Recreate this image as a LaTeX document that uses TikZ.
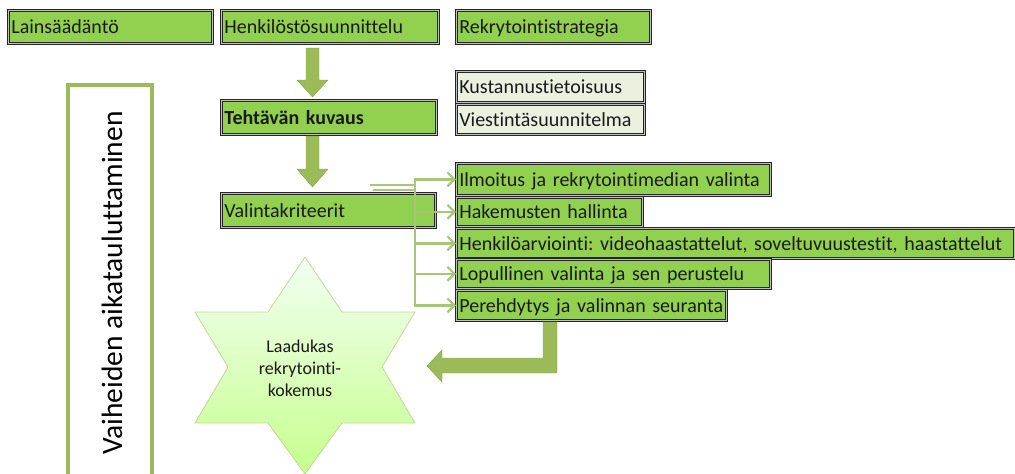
\documentclass[tikz,border=0pt]{standalone}
\usepackage{fontspec}
\setmainfont{Carlito}[Ligatures={NoCommon}]
\usetikzlibrary{arrows.meta}
\frenchspacing
\definecolor{boxgreen}{HTML}{92D050}
\definecolor{palegreen}{HTML}{EBF1DE}
\definecolor{olive}{HTML}{9BBB59}
\definecolor{linkgreen}{HTML}{A6C77A}
\definecolor{inktext}{HTML}{1A1A1A}
\tikzset{
  gbox/.style={rectangle, anchor=north west, fill=boxgreen, draw=black!85,
    double=black!25, double distance=1.2pt, line width=0.7pt,
    inner xsep=3pt, inner ysep=0pt, align=left, text=inktext,
    text height=14pt, text depth=0pt,
    font=\fontsize{20}{22}\selectfont},
  pbox/.style={gbox, fill=palegreen},
  link/.style={draw=linkgreen, line width=2.6pt,
    -{Straight Barb[length=7pt, width=14pt, line width=2.2pt]}},
  blockarrow/.style={fill=olive, draw=olive!85!black, line width=0.4pt},
}
\begin{document}
\begin{tikzpicture}[x=1pt, y=-1pt]
\useasboundingbox (0,0) rectangle (1015,474);

% top row
\node[gbox, text width=198pt, minimum height=33pt] (law) at (8,10) {Lainsäädäntö};
\node[gbox, text width=211pt, minimum height=33pt] (hr) at (221,10) {Henkilöstösuunnittelu};
\node[gbox, text width=188pt, minimum height=33pt] (strat) at (456,10) {Rekrytointistrategia};

% job description and its side notes
\node[gbox, text width=209pt, minimum height=34pt, font=\fontsize{20}{22}\selectfont\bfseries] (task) at (221,100) {Tehtävän kuvaus};
\node[pbox, text width=182pt, minimum height=31pt] (cost) at (456,71) {Kustannustietoisuus};
\node[pbox, text width=182pt, minimum height=30pt] (comm) at (456,104) {Viestintäsuunnitelma};

% criteria
\node[gbox, text width=208pt, minimum height=34pt] (crit) at (221,193) {Valintakriteerit};

% process steps
\node[gbox, text width=308pt, minimum height=32pt] (ad) at (456,163) {Ilmoitus ja rekrytointimedian valinta};
\node[gbox, text width=180pt, minimum height=29pt] (appl) at (456,197) {Hakemusten hallinta};
\node[gbox, text width=552pt, minimum height=30pt] (assess) at (456,228) {Henkilöarviointi: videohaastattelut, soveltuvuustestit, haastattelut};
\node[gbox, text width=308pt, minimum height=29pt] (final) at (456,259) {Lopullinen valinta ja sen perustelu};
\node[gbox, text width=264pt, minimum height=30pt] (onboard) at (456,290) {Perehdytys ja valinnan seuranta};

% block arrows down the main column
\path[blockarrow] (306,48) -- (319,48) -- (319,80) -- (328,80) -- (312.5,97)
  -- (297,80) -- (306,80) -- cycle;
\path[blockarrow] (306,136) -- (319,136) -- (319,169) -- (328,169) -- (312.5,187)
  -- (297,169) -- (306,169) -- cycle;

% branching connectors from the criteria
\coordinate (src) at (370,185);
\coordinate (src2) at (373,190);
\coordinate (bus) at (415,185);
\foreach \t in {ad,appl,assess,final,onboard}{
  \draw[link] (src) -- (bus) |- (\t.west);
}
\draw[draw=linkgreen, line width=2.6pt] (src2) -- (415,190);

% timeline frame
\draw[olive, line width=4pt] (68,480) -- (68,85) -- (152,85) -- (152,480);
\node[rotate=90, font=\fontsize{29.5}{31}\selectfont, text=black] (timeline) at (112,283) {Vaiheiden aikatauluttaminen};

% star of the outcome
\path[draw=olive!60!white, line width=0.8pt, top color=green!5!white, bottom color=lime!35!white!85!green]
  (305,257) -- (342,312) -- (415,312) -- (382,367) -- (415,423) -- (342,423)
  -- (305,474) -- (268,423) -- (195,423) -- (228,367) -- (195,312) -- (268,312) -- cycle;
\node[align=center, text=inktext, font=\fontsize{18}{22}\selectfont] (star) at (300,368) {Laadukas\\rekrytointi-\\kokemus};

% bent arrow back to the star
\path[blockarrow] (543,322) -- (557,322) -- (557,373) -- (442,373) -- (442,382)
  -- (427,366) -- (442,350) -- (442,358) -- (543,358) -- cycle;
\end{tikzpicture}
\end{document}
